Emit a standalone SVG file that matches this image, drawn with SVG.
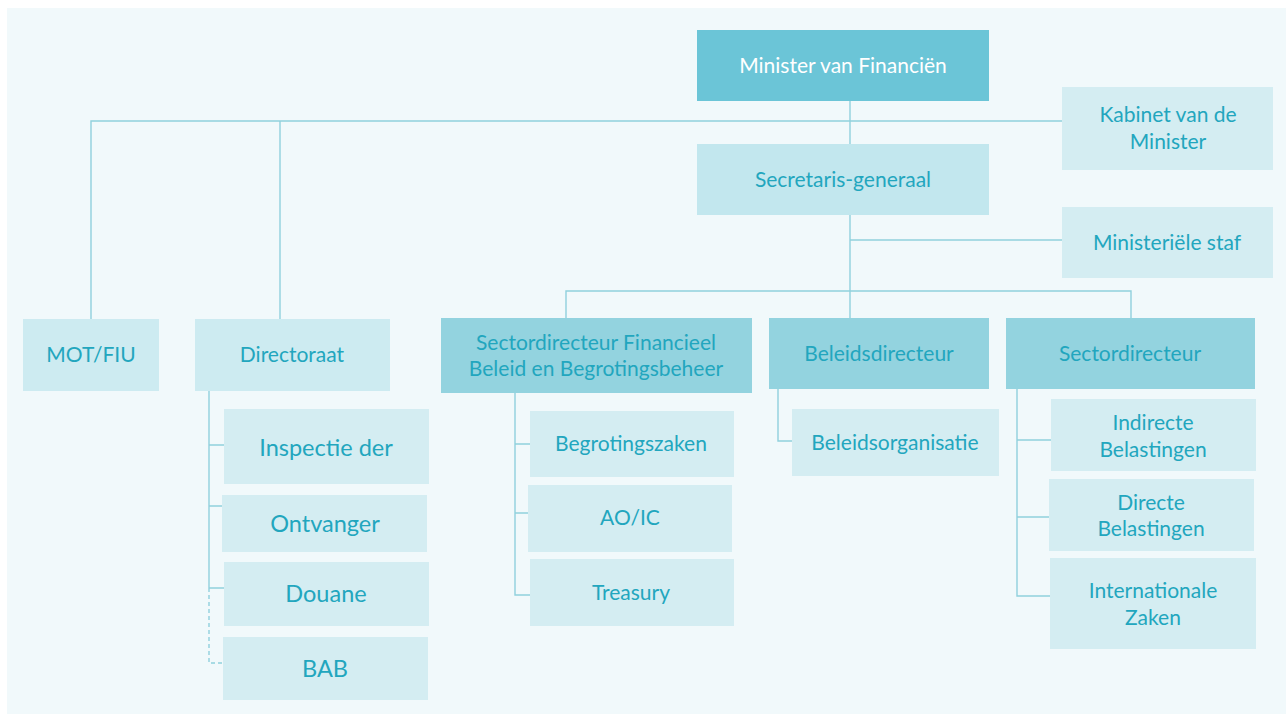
<svg xmlns="http://www.w3.org/2000/svg" width="1286" height="714" viewBox="0 0 1286 714">
<style>
.t{font-family:Lato,"Open Sans","Liberation Sans",sans-serif;font-size:21px;fill:#22a6be;text-anchor:middle}
.tb{font-size:23.5px}
.w{fill:#ffffff}
.top{fill:#6bc5d7}
.sec{fill:#c2e7ee}
.lvl1{fill:#cdebf1}
.dir{fill:#93d3df}
.sub{fill:#d4edf2}
.ln{stroke:#90d1dd;stroke-width:1.4;fill:none}
.dash{stroke-dasharray:4 3}
</style>
<rect x="0" y="0" width="1286" height="714" fill="#ffffff"/>
<rect x="7" y="8" width="1279" height="706" fill="#f1f9fb"/>
<g id="connectors">
<path class="ln" d="M850 101V318"/>
<path class="ln" d="M91 319V121H1062"/>
<path class="ln" d="M280 121V319"/>
<path class="ln" d="M850 240H1062"/>
<path class="ln" d="M566 318V291H1131V318"/>
<path class="ln" d="M209 391V588"/>
<path class="ln" d="M209 445H224M209 506H222M209 588H224"/>
<path class="ln dash" d="M209 588V663H223"/>
<path class="ln" d="M515 393V595H530M515 444H530M515 513H528"/>
<path class="ln" d="M778 389V441H792"/>
<path class="ln" d="M1017 389V596H1050M1017 440H1051M1017 517H1049"/>
</g>
<g id="minister"><rect class="top" x="697" y="30" width="292" height="71"/><text class="t w" x="843" y="73">Minister van Financiën</text></g>
<g id="kabinet"><rect class="sub" x="1062" y="87" width="211" height="83"/><text class="t" x="1168" y="122">Kabinet van de</text><text class="t" x="1168" y="149">Minister</text></g>
<g id="secretaris"><rect class="sec" x="697" y="144" width="292" height="71"/><text class="t" x="843" y="187">Secretaris-generaal</text></g>
<g id="staf"><rect class="sub" x="1062" y="207" width="211" height="71"/><text class="t" x="1167" y="250">Ministeriële staf</text></g>
<g id="motfiu"><rect class="lvl1" x="23" y="319" width="136" height="72"/><text class="t" x="91" y="362">MOT/FIU</text></g>
<g id="directoraat"><rect class="lvl1" x="195" y="319" width="195" height="72"/><text class="t" x="292" y="362">Directoraat</text></g>
<g id="sectorfin"><rect class="dir" x="441" y="318" width="311" height="75"/><text class="t" x="596" y="350">Sectordirecteur Financieel</text><text class="t" x="596" y="376">Beleid en Begrotingsbeheer</text></g>
<g id="beleidsdirecteur"><rect class="dir" x="769" y="318" width="220" height="71"/><text class="t" x="879" y="361">Beleidsdirecteur</text></g>
<g id="sectordirecteur"><rect class="dir" x="1006" y="318" width="249" height="71"/><text class="t" x="1130" y="361">Sectordirecteur</text></g>
<g id="inspectie"><rect class="sub" x="224" y="409" width="205" height="75"/><text class="t tb" x="326" y="456">Inspectie der</text></g>
<g id="ontvanger"><rect class="sub" x="222" y="495" width="205" height="57"/><text class="t tb" x="325" y="532">Ontvanger</text></g>
<g id="douane"><rect class="sub" x="224" y="562" width="205" height="64"/><text class="t tb" x="326" y="602">Douane</text></g>
<g id="bab"><rect class="sub" x="223" y="637" width="205" height="63"/><text class="t tb" x="325" y="677">BAB</text></g>
<g id="begrotingszaken"><rect class="sub" x="530" y="411" width="204" height="66"/><text class="t" x="631" y="451">Begrotingszaken</text></g>
<g id="aoic"><rect class="sub" x="528" y="485" width="204" height="67"/><text class="t" x="630" y="525">AO/IC</text></g>
<g id="treasury"><rect class="sub" x="530" y="559" width="204" height="67"/><text class="t" x="631" y="600">Treasury</text></g>
<g id="beleidsorganisatie"><rect class="sub" x="792" y="409" width="207" height="67"/><text class="t" x="895" y="450">Beleidsorganisatie</text></g>
<g id="indirecte"><rect class="sub" x="1051" y="399" width="205" height="72"/><text class="t" x="1153" y="430">Indirecte</text><text class="t" x="1153" y="457">Belastingen</text></g>
<g id="directe"><rect class="sub" x="1049" y="479" width="205" height="72"/><text class="t" x="1151" y="510">Directe</text><text class="t" x="1151" y="536">Belastingen</text></g>
<g id="internationale"><rect class="sub" x="1050" y="558" width="206" height="91"/><text class="t" x="1153" y="598">Internationale</text><text class="t" x="1153" y="625">Zaken</text></g>
</svg>
